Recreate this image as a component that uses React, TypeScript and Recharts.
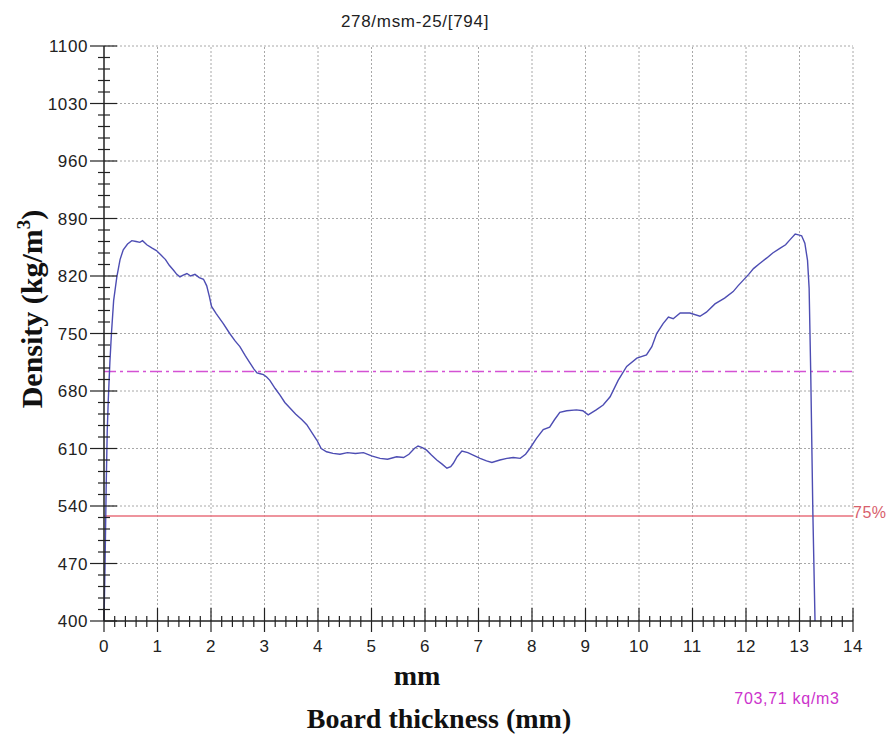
import React from 'react';
import { LineChart, Line, XAxis, YAxis, ReferenceLine } from 'recharts';

// ---- data ----
const thicknessMm = [
  0.0, 0.02, 0.04, 0.06, 0.08, 0.11, 0.14, 0.18, 0.24, 0.3, 0.36, 0.44, 0.52, 0.6, 0.67, 0.72, 0.8, 0.9, 0.98,
  1.06, 1.15, 1.22, 1.3, 1.36, 1.42, 1.48, 1.55, 1.62, 1.7, 1.78, 1.86, 1.92, 1.97, 2.01, 2.1, 2.23, 2.35, 2.45,
  2.54, 2.64, 2.73, 2.8, 2.86, 2.92, 2.98, 3.04, 3.1, 3.2, 3.29, 3.38, 3.48, 3.58, 3.7, 3.79, 3.88, 3.98, 4.06,
  4.16, 4.28, 4.41, 4.55, 4.7, 4.85, 5.0, 5.16, 5.3, 5.47, 5.6, 5.7, 5.8, 5.87, 5.95, 6.03, 6.12, 6.22, 6.32,
  6.41, 6.48, 6.53, 6.6, 6.69, 6.8, 6.9, 7.03, 7.15, 7.25, 7.4, 7.53, 7.65, 7.78, 7.88, 7.96, 8.08, 8.21, 8.33,
  8.42, 8.52, 8.65, 8.83, 8.95, 9.05, 9.2, 9.33, 9.46, 9.61, 9.77, 9.96, 10.14, 10.24, 10.33, 10.45, 10.55,
  10.64, 10.77, 10.95, 11.14, 11.26, 11.42, 11.6, 11.76, 11.85, 11.95, 12.05, 12.14, 12.25, 12.39, 12.5, 12.64,
  12.74, 12.82, 12.92, 12.98, 13.04, 13.1, 13.15, 13.18, 13.21, 13.25, 13.29,
];
const densityKgM3 = [
  400, 470, 560, 630, 669, 715, 751, 790, 819, 840, 852, 859, 863, 862, 861, 863, 858, 854, 851,
  846, 840, 833, 827, 822, 819, 821, 823, 820, 822, 818, 816, 808, 795, 783, 774, 762, 750, 741,
  734, 723, 714, 707, 702, 701, 700, 697, 693, 683, 675, 666, 659, 652, 645, 639, 630, 620, 610,
  606, 604, 603, 605, 604, 605, 601, 598, 597, 600, 599, 603, 610, 613, 611, 608, 602, 596, 591,
  586, 588, 592, 600, 607, 605, 602, 598, 595, 593, 596, 598, 599, 598, 603, 610, 622, 633, 636,
  645, 654, 656, 657, 656, 651, 657, 663, 673, 693, 710, 720, 724, 734, 750, 762, 770,
  768, 775, 775, 771, 776, 786, 793, 801, 808, 815, 822, 829, 835, 842, 848, 854,
  858, 864, 871, 870, 869, 860, 839, 805, 702, 531, 400,
];
const xMajorTicks = [0, 1, 2, 3, 4, 5, 6, 7, 8, 9, 10, 11, 12, 13, 14];
const yMajorTicks = [400, 470, 540, 610, 680, 750, 820, 890, 960, 1030, 1100];
const meanDensity = 703.71;
const thresholdDensity = 527.78; // 75 % of mean
const titleText = '278/msm-25/[794]';
const meanLabel = '703,71 kq/m3';
const thresholdLabel = '75%';
const xUnitLabel = 'mm';
const xTitle = 'Board thickness (mm)';

const data = thicknessMm.map((x, i) => ({ x, d: densityKgM3[i] }));

// minor ticks: 5 per major interval
const xTicks: number[] = [];
for (let i = 0; i < xMajorTicks.length - 1; i++) {
  for (let k = 0; k < 5; k++) xTicks.push(Math.round((xMajorTicks[i] + k * 0.2) * 10) / 10);
}
xTicks.push(xMajorTicks[xMajorTicks.length - 1]);
const yTicks: number[] = [];
for (let i = 0; i < yMajorTicks.length - 1; i++) {
  for (let k = 0; k < 5; k++) yTicks.push(yMajorTicks[i] + k * 14);
}
yTicks.push(yMajorTicks[yMajorTicks.length - 1]);

const SANS = '"Liberation Sans", Arial, Helvetica, sans-serif';
const SERIF = '"Liberation Serif", "Times New Roman", serif';
const AXIS = '#222';

function XTick(props: any) {
  const { x, y, payload } = props;
  const v = payload.value;
  const major = Math.abs(v - Math.round(v)) < 1e-6;
  return (
    <g>
      <line x1={x} x2={x} y1={major ? y - 13 : y - 5} y2={major ? y + 11 : y + 6} stroke={AXIS} strokeWidth={1.2} />
      {major && (
        <text x={x} y={y + 31} textAnchor="middle" fontSize={17} fill={AXIS} fontFamily={SANS} letterSpacing={0.6}>
          {v}
        </text>
      )}
    </g>
  );
}

function YTick(props: any) {
  const { x, y, payload } = props;
  const v = payload.value;
  const major = (v - 400) % 70 === 0;
  return (
    <g>
      <line x1={major ? x - 14 : x - 6} x2={major ? x + 13 : x + 6} y1={y} y2={y} stroke={AXIS} strokeWidth={1.2} />
      {major && (
        <text x={x - 16} y={y} dy="0.36em" textAnchor="end" fontSize={17} fill={AXIS} fontFamily={SANS} letterSpacing={0.6}>
          {v}
        </text>
      )}
    </g>
  );
}

const gridStyle = { stroke: '#a8a8a8', strokeDasharray: '2 2', strokeWidth: 1 };

export default function App() {
  return (
    <div style={{ position: 'absolute', left: 0, top: 0, width: 894, height: 735, background: '#fff' }}>
      <LineChart width={894} height={735} data={data} margin={{ top: 46, right: 41, bottom: 84, left: 0 }}>
        {xMajorTicks.slice(1).map((t) => (
          <ReferenceLine key={'vx' + t} x={t} {...gridStyle} />
        ))}
        {yMajorTicks.slice(1).map((t) => (
          <ReferenceLine key={'hy' + t} y={t} {...gridStyle} />
        ))}
        <XAxis
          dataKey="x"
          type="number"
          domain={[0, 14]}
          ticks={xTicks}
          interval={0}
          tickSize={0}
          tickMargin={0}
          tickLine={false}
          height={30}
          axisLine={{ stroke: AXIS, strokeWidth: 1.5 }}
          tick={<XTick />}
        />
        <YAxis
          type="number"
          domain={[400, 1100]}
          ticks={yTicks}
          interval={0}
          tickSize={0}
          tickMargin={0}
          tickLine={false}
          width={104}
          axisLine={{ stroke: AXIS, strokeWidth: 1.5 }}
          tick={<YTick />}
        />
        <ReferenceLine y={meanDensity} stroke="#d452d4" strokeWidth={1.3} strokeDasharray="12 4 3 4" />
        <ReferenceLine
          y={thresholdDensity}
          stroke="#e8707c"
          strokeWidth={1.5}
          label={(p: any) => {
            const vb = p.viewBox || {};
            return (
              <text x={(vb.x || 0) + (vb.width || 0)} y={(vb.y || 0) + 2} fontSize={16} fill="#d8606c" fontFamily={SANS} letterSpacing={0.5}>
                {thresholdLabel}
              </text>
            );
          }}
        />
        <Line type="linear" dataKey="d" stroke="#4d4db3" strokeWidth={1.4} dot={false} isAnimationActive={false} />
      </LineChart>
      <svg width={894} height={735} style={{ position: 'absolute', left: 0, top: 0, pointerEvents: 'none' }}>
        <text x={415} y={27} textAnchor="middle" fontSize={17} fill={AXIS} fontFamily={SANS} letterSpacing={0.7}>
          {titleText}
        </text>
        <text x={417} y={685} textAnchor="middle" fontSize={28} fontWeight="bold" fill="#111" fontFamily={SERIF}>
          {xUnitLabel}
        </text>
        <text x={439} y={728} textAnchor="middle" fontSize={28} fontWeight="bold" fill="#111" fontFamily={SERIF}>
          {xTitle}
        </text>
        <text x={787} y={704} textAnchor="middle" fontSize={16} fill="#cc33cc" fontFamily={SANS} letterSpacing={0.7}>
          {meanLabel}
        </text>
        <text transform="translate(42,309) rotate(-90)" textAnchor="middle" fontSize={30} fontWeight="bold" fill="#111" fontFamily={SERIF}>
          Density (kg/m
          <tspan dy={-12} fontSize={19}>3</tspan>
          <tspan dy={12}>)</tspan>
        </text>
      </svg>
    </div>
  );
}
